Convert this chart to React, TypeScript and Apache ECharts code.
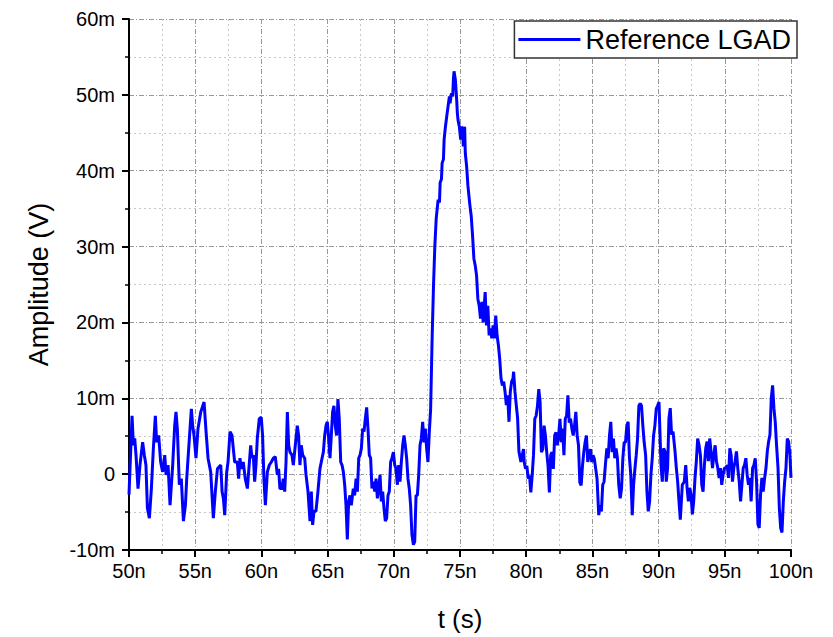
import React, { useEffect, useRef } from "react";
import * as echarts from "echarts";

// Time in ns, amplitude in mV
const timeNs = [
  50.0, 50.23, 50.33, 50.43, 50.53, 50.68, 50.83, 51.03, 51.16, 51.28, 51.39, 51.54, 51.69, 51.84, 51.99,
  52.09, 52.24, 52.39, 52.54, 52.7, 52.8, 52.95, 53.1, 53.3, 53.45, 53.55, 53.65, 53.8, 53.95, 54.11,
  54.26, 54.36, 54.46, 54.71, 54.81, 54.91, 55.06, 55.21, 55.42, 55.67, 55.82, 55.97, 56.17, 56.37, 56.52,
  56.68, 56.93, 57.03, 57.13, 57.23, 57.38, 57.48, 57.63, 57.78, 57.98,
  58.18, 58.28, 58.38, 58.48, 58.63, 58.78, 58.94, 59.19, 59.29, 59.39, 59.49, 59.59, 59.69, 59.84, 59.99,
  60.09, 60.19, 60.3, 60.45, 60.6, 60.75, 60.9, 61.05, 61.2, 61.3, 61.4, 61.55, 61.65, 61.76, 61.86,
  61.96, 62.06, 62.16, 62.31, 62.41, 62.56, 62.71, 62.81, 62.91, 63.01, 63.12, 63.27, 63.37, 63.52, 63.67,
  63.77, 63.87, 63.97, 64.12, 64.27, 64.42, 64.58, 64.68, 64.78, 64.88, 64.98, 65.08, 65.18, 65.28, 65.38,
  65.48, 65.58, 65.68, 65.78, 65.88, 65.99, 66.09, 66.19, 66.29, 66.39, 66.49,
  66.59, 66.69, 66.79, 66.94, 67.04, 67.15, 67.25, 67.35, 67.45, 67.55, 67.65, 67.75, 67.85, 67.95, 68.05,
  68.15, 68.25, 68.35, 68.45, 68.56, 68.66, 68.76, 68.86, 68.96, 69.06, 69.16, 69.26, 69.36, 69.46, 69.56,
  69.66, 69.76, 69.86, 69.97, 70.07, 70.17, 70.27, 70.37, 70.47, 70.57, 70.67, 70.77, 70.87, 70.97, 71.07,
  71.17, 71.27, 71.37, 71.48, 71.58, 71.68, 71.78, 71.88, 71.98, 72.08, 72.18, 72.28, 72.38, 72.48, 72.58,
  72.68, 72.78,
  72.9, 73.0, 73.1, 73.2, 73.25, 73.35, 73.45, 73.5, 73.6, 73.65, 73.75, 73.8, 73.9, 74.0, 74.1,
  74.2, 74.25, 74.35, 74.45, 74.5, 74.55, 74.65, 74.7, 74.75, 74.8, 74.85, 74.95, 75.05, 75.1, 75.2,
  75.25, 75.35, 75.4, 75.5, 75.6, 75.65, 75.75, 75.85, 75.95, 76.05, 76.15, 76.25, 76.35, 76.45, 76.55,
  76.65, 76.75, 76.9, 77.0, 77.1, 77.2, 77.3, 77.4, 77.5, 77.6, 77.7, 77.8, 77.9, 78.0, 78.1,
  78.2, 78.3, 78.4, 78.5, 78.6, 78.7, 78.8, 78.9, 79.0, 79.05, 79.15, 79.25, 79.35, 79.45,
  79.6, 79.7, 79.8, 79.85, 79.95, 80.05, 80.15, 80.25, 80.35, 80.45, 80.55, 80.65, 80.75, 80.85, 80.95,
  81.05, 81.15, 81.25, 81.35, 81.45, 81.55, 81.65, 81.75, 81.85, 81.95, 82.05, 82.15, 82.25, 82.35, 82.45,
  82.55, 82.65, 82.75, 82.85, 82.95, 83.05, 83.15, 83.25, 83.35, 83.45, 83.55, 83.65, 83.75, 83.85, 83.95,
  84.05, 84.15, 84.25, 84.35, 84.45, 84.55, 84.65, 84.75, 84.85, 84.95, 85.05, 85.15, 85.25, 85.35,
  85.48, 85.58, 85.68, 85.78, 85.88, 85.98, 86.09, 86.19, 86.29, 86.39, 86.49, 86.59, 86.69, 86.79, 86.89,
  86.99, 87.1, 87.2, 87.3, 87.4, 87.5, 87.6, 87.7, 87.8, 87.9, 88.01, 88.11, 88.21, 88.31, 88.41,
  88.51, 88.61, 88.71, 88.81, 88.91, 89.02, 89.12, 89.22, 89.32, 89.42, 89.52, 89.62, 89.72, 89.82, 89.92,
  90.03,
  90.18, 90.28, 90.38, 90.48, 90.58, 90.68, 90.78, 90.88, 90.98, 91.09, 91.24, 91.34, 91.44, 91.54, 91.64,
  91.79, 91.94, 92.05, 92.15, 92.25, 92.35, 92.45, 92.55, 92.65, 92.75, 92.85, 92.95, 93.06, 93.16, 93.26,
  93.36, 93.46, 93.56, 93.66, 93.76, 93.86, 93.96, 94.07, 94.17, 94.27, 94.37, 94.47, 94.57, 94.67, 94.77,
  94.87, 94.97, 95.08, 95.18, 95.28, 95.38, 95.48, 95.58, 95.68, 95.78, 95.88, 95.98, 96.09, 96.19, 96.29,
  96.39, 96.49, 96.59, 96.69, 96.79, 96.89, 96.99, 97.1, 97.2, 97.3, 97.4, 97.5, 97.6, 97.7, 97.8,
  97.9, 98.01, 98.11, 98.21, 98.31, 98.41, 98.51, 98.61, 98.71, 98.81, 98.91, 99.02, 99.12, 99.22, 99.32,
  99.42, 99.52, 99.62, 99.72, 99.82, 99.92, 100.0,
];

const amplitudeMv = [
  -2.7, 7.7, 3.8, 4.7, 2.5, -1.9, 1.2, 4.2, 2.5, 1.2, -4.5, -5.8, -1.9, 3.4, 7.7,
  4.2, 5.1, 1.6, 0.3, 2.5, -0.1, 1.2, -4.1, 1.2, 6.4, 8.2, 6.0, -1.4, -0.6, -6.2,
  -4.1, -0.6, 2.1, 8.6, 6.4, 5.1, 2.1, 6.0, 8.2, 9.5, 5.6, 2.1, 0.3, -5.8, -2.3,
  0.7, 1.2, -2.3, -3.2, -5.4, 0.3, 1.6, 5.6, 5.1, 1.6,
  1.6, -0.6, 2.1, 0.7, 1.6, -0.6, -1.9, 3.8, 2.1, 2.5, -1.0, 1.2, 4.7, 7.3, 7.5,
  5.1, -0.6, -4.1, 0.3, 1.2, 1.6, 2.1, 2.3, -0.1, 0.7, -1.9, -1.9, -0.6, -2.3, 1.6,
  8.2, 3.8, 2.9, 2.5, 1.2, 3.8, 6.4, 5.1, 1.2, 3.8, 2.5, 2.1, -0.1, -2.3, -6.2,
  -2.3, -6.7, -4.9, -4.9, -2.3, 0.7, 2.1, 2.9, 5.1, 6.4, 6.9, 4.7, 2.1, 5.1, 8.2,
  9.0, 6.4, 5.1, 9.9, 7.3, 1.6, 1.2, 0.3, -1.4, -4.1, -8.6,
  -3.6, -2.8, -4.1, -1.9, -2.8, -0.6, -2.3, 2.1, 2.5, 3.4, 6.0, 5.6, 7.3, 8.8, 6.0,
  2.5, 2.1, -1.9, -1.0, -2.3, -0.6, -3.2, -1.9, -0.1, -3.6, -2.3, -4.5, -6.2, -5.8, -2.8,
  -2.3, 1.6, 2.1, 2.9, 1.2, 0.7, -1.4, 1.2, -1.0, 1.6, 3.8, 5.1, 3.8, 2.1, -0.6,
  -1.9, -4.1, -8.0, -9.3, -8.9, -2.8, -2.8, -0.1, 3.8, 4.7, 6.9, 4.2, 6.0, 3.4, 1.6,
  5.5, 8.5,
  18.3, 24.9, 30.1, 33.6, 34.5, 36.2, 35.8, 38.4, 38.9, 41.0, 41.5, 44.1, 45.8, 47.2, 48.5,
  49.8, 48.9, 50.2, 49.8, 52.0, 53.1, 52.0, 50.7, 49.3, 47.6, 46.7, 45.8, 44.1, 45.8, 45.4,
  43.2, 45.8, 42.3, 40.6, 38.0, 37.1, 35.4, 34.0, 31.4, 28.4, 27.5, 26.2, 23.1, 22.2, 20.5,
  22.7, 20.0, 24.0, 19.6, 22.2, 18.3, 19.2, 17.9, 19.6, 17.9, 20.9, 18.3, 17.0, 15.2, 12.6,
  11.7, 12.2, 10.9, 9.1, 10.4, 6.9, 10.9, 12.2, 12.6, 13.5, 10.9, 9.1, 7.4, 3.0,
  1.6, 2.5, 3.3, 1.6, 0.7, 1.1, -0.6, -0.2, -2.4, -0.2, 2.5, 7.3, 7.7, 9.0, 11.2,
  9.5, 2.9, 3.3, 6.4, 5.1, 2.9, 1.1, -2.4, 2.5, 2.9, 0.7, 5.1, 5.5, 3.8, 5.1,
  7.3, 4.2, 6.0, 2.5, 7.3, 7.7, 10.4, 6.8, 7.3, 6.0, 5.1, 6.4, 8.2, 5.1, 3.8,
  -1.1, -1.5, 1.1, 2.9, 4.2, 5.1, 1.6, 2.5, 3.3, 1.6, 2.5, 2.0, 0.7, -0.6,
  -5.4, -4.1, -4.9, -1.4, -1.0, 1.2, 3.4, 2.1, 5.1, 6.9, 2.9, 4.7, 2.1, 3.4, 2.1,
  -1.4, -3.2, -1.9, 2.1, 4.2, 4.2, 6.4, 6.9, 2.1, -0.1, -5.4, -1.4, 0.7, 2.5, 4.7,
  9.0, 9.3, 9.0, 6.4, 4.2, 2.5, -2.3, -4.9, -3.6, -0.1, 2.1, 5.1, 6.4, 8.6, 9.0,
  9.5,
  1.2, -1.0, 3.4, 3.0, -1.0, 0.8, 7.3, 8.7, 5.2, 5.6, 3.0, 0.8, -1.0, -3.6, -6.0,
  -1.4, -1.0, 1.2, -1.8, -3.6, -1.8, -2.7, -5.3, -3.6, -0.5, 1.7, 4.7, 3.8, 2.5, -1.4,
  -2.3, 1.2, 3.4, 4.3, 1.7, 4.7, 3.0, 0.8, 2.5, 3.8, 1.7, 0.8, -0.5, 0.8, -1.4,
  -0.1, 0.8, 0.8, 1.2, -0.5, 3.4, 2.5, -1.0, 0.8, 1.7, 3.0, 0.8, -1.0, -3.6, -1.4,
  0.8, 1.2, 2.1, -0.1, -1.4, -0.5, -3.6, 0.8, 1.2, 2.1, -1.0, -6.6, -7.1, -2.7, -0.5,
  -2.3, -0.5, 0.8, 3.0, 4.3, 5.2, 10.0, 11.7, 8.7, 6.9, 3.8, 0.8, -4.5, -7.1, -7.7,
  -3.6, -1.0, 0.8, 4.7, 4.3, 2.5, -0.5,
];

const seriesName = "Reference LGAD";
const xMin = 50;
const xMax = 100;
const xStep = 5;
const yMin = -10;
const yMax = 60;
const yStep = 10;

export default function App() {
  const ref = useRef<HTMLDivElement>(null);
  useEffect(() => {
    if (!ref.current) return;
    const chart = echarts.init(ref.current, null, { renderer: "svg" });
    const data = timeNs.map((t, i) => [t, amplitudeMv[i]]);
    const font = "Liberation Sans, Arial, sans-serif";
    chart.setOption({
      animation: false,
      backgroundColor: "#ffffff",
      textStyle: { fontFamily: font },
      grid: { left: 129, top: 19, right: 42, bottom: 86, containLabel: false },
      legend: {
        show: true,
        data: [seriesName],
        right: 36,
        top: 21,
        padding: [5, 6, 5, 4],
        borderColor: "#333",
        borderWidth: 1.5,
        backgroundColor: "#fff",
        icon: "rect",
        itemWidth: 62,
        itemHeight: 3,
        itemStyle: { color: "#0000ff" },
        textStyle: { fontSize: 27, color: "#000", fontFamily: font },
      },
      xAxis: {
        type: "value",
        min: xMin,
        max: xMax,
        interval: xStep,
        name: "t (s)",
        nameLocation: "middle",
        nameGap: 56,
        nameTextStyle: { fontSize: 26, color: "#000", fontFamily: font },
        axisLine: { onZero: false, lineStyle: { color: "#000", width: 2 } },
        axisTick: { show: true, inside: false, length: 7, lineStyle: { color: "#000", width: 2 } },
        minorTick: { show: true, splitNumber: 2, length: 4, lineStyle: { color: "#000", width: 1.5 } },
        axisLabel: {
          formatter: (v: number) => `${v}n`,
          fontSize: 20,
          color: "#000",
          margin: 11,
          fontFamily: font,
        },
        splitLine: { show: true, lineStyle: { color: "#999", type: [5, 2, 1, 2], width: 1 } },
        minorSplitLine: { show: true, lineStyle: { color: "#c8c8c8", type: [2, 3], width: 1 } },
      },
      yAxis: {
        type: "value",
        min: yMin,
        max: yMax,
        interval: yStep,
        name: "Amplitude (V)",
        nameLocation: "middle",
        nameGap: 77,
        nameTextStyle: { fontSize: 27, color: "#000", fontFamily: font },
        axisLine: { onZero: false, lineStyle: { color: "#000", width: 2 } },
        axisTick: { show: true, inside: false, length: 7, lineStyle: { color: "#000", width: 2 } },
        minorTick: { show: true, splitNumber: 2, length: 4, lineStyle: { color: "#000", width: 1.5 } },
        axisLabel: {
          formatter: (v: number) => (v === 0 ? "0" : `${v}m`),
          fontSize: 20,
          color: "#000",
          margin: 14,
          fontFamily: font,
        },
        splitLine: { show: true, lineStyle: { color: "#999", type: [5, 2, 1, 2], width: 1 } },
        minorSplitLine: { show: true, lineStyle: { color: "#c8c8c8", type: [2, 3], width: 1 } },
      },
      series: [
        {
          type: "line",
          name: seriesName,
          data,
          symbol: "none",
          showSymbol: false,
          lineStyle: { color: "#0000ff", width: 3 },
          itemStyle: { color: "#0000ff" },
        },
      ],
    });
    return () => chart.dispose();
  }, []);
  return (
    <div
      ref={ref}
      style={{ position: "fixed", left: 0, top: 0, width: 833, height: 637 }}
    />
  );
}
